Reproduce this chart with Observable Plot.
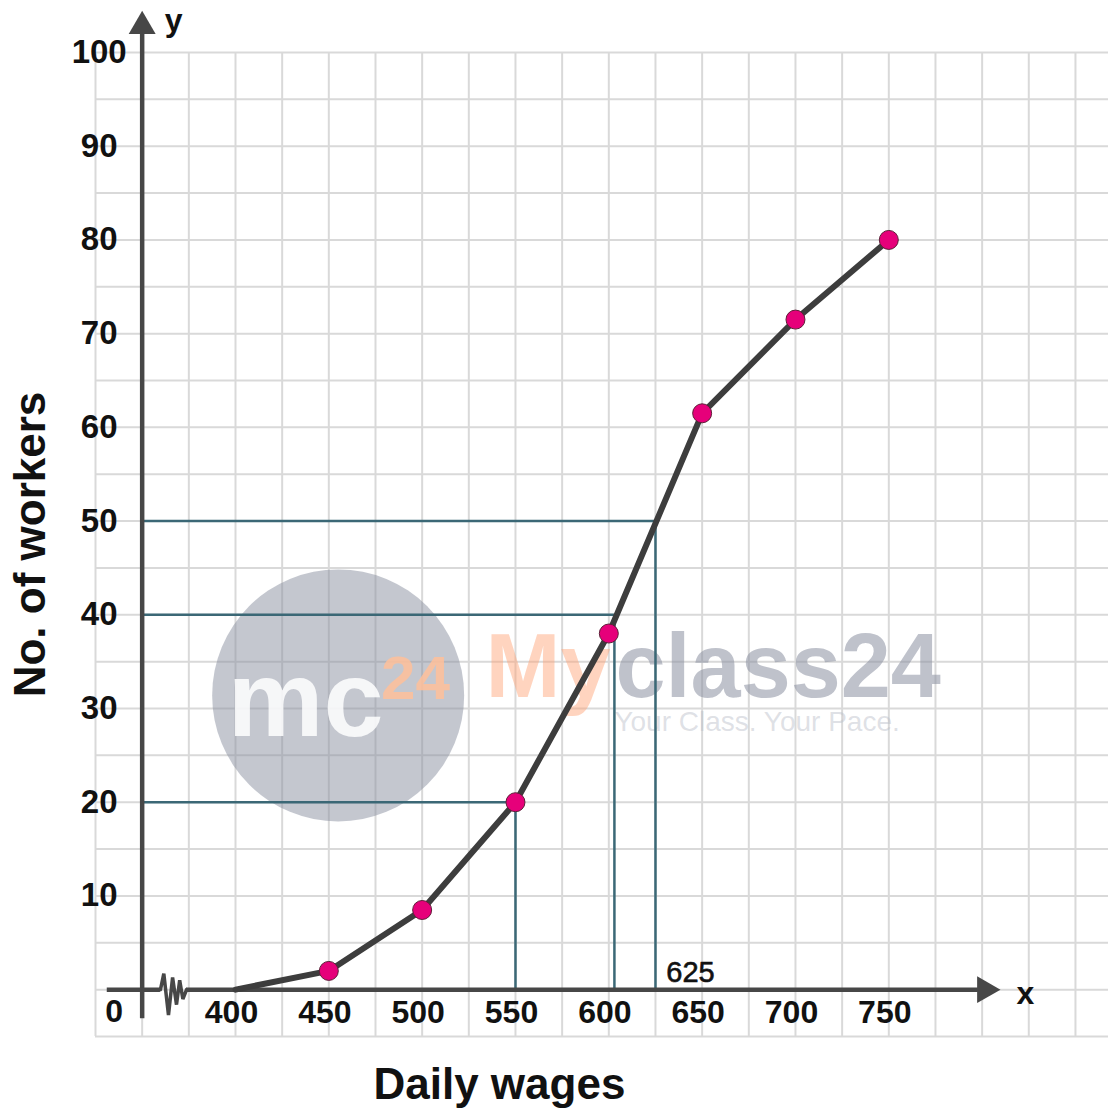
<!DOCTYPE html>
<html><head><meta charset="utf-8">
<script src="https://cdn.jsdelivr.net/npm/d3@7"></script>
<script src="https://cdn.jsdelivr.net/npm/@observablehq/plot@0.6"></script>
<style>body{margin:0;background:#fff} svg{display:block}</style>
</head><body><div id="chart"></div>
<script>
// Ogive: daily wages vs cumulative number of workers
const wages = [400, 450, 500, 550, 600, 650, 700, 750];
const workers = [0, 2, 8.5, 20, 38, 61.5, 71.5, 80];
const xTickLabels = [400, 450, 500, 550, 600, 650, 700, 750];
const yTickLabels = [10, 20, 30, 40, 50, 60, 70, 80, 90, 100];
const readY = [20, 40, 50];
const readX = [550, 603, 625];
const medianText = "625";
const xTitle = "Daily wages";
const yTitle = "No. of workers";

const curve = wages.map((w, i) => ({x: w, y: workers[i]}));
const points = curve.filter(d => d.y > 0);
const reads = readY.map((y, i) => ({x: readX[i], y}));

const FONT = "'Liberation Sans', Arial, Helvetica, sans-serif";
const AX = "#474747";
const TEAL = "#3b6876";

// break (zigzag) on the x axis, in data units
const zig = [[359.8,0],[361.6,1.7],[364.1,-2.7],[366.3,1.3],[368.4,-1.6],[370.1,1.0],[371.8,-1.0],[373.8,0]].map(([x,y])=>({x,y}));

const chart = Plot.plot({
  width: 1108, height: 1108,
  marginLeft: 95, marginRight: 0, marginTop: 52, marginBottom: 72,
  x: {domain: [325, 867.7], axis: null},
  y: {domain: [-5, 100], axis: null},
  style: {fontFamily: FONT, background: "#fff", overflow: "visible"},
  marks: [
    // grid
    Plot.ruleX(d3.range(325, 868, 25), {stroke: "#d9d9d9", strokeWidth: 2}),
    Plot.ruleY(d3.range(-5, 101, 5), {stroke: "#d9d9d9", strokeWidth: 2}),
    // watermark
    Plot.dot([0], {x: 455, y: 31.4, r: 126, fill: "#8a90a0", fillOpacity: 0.5, stroke: null}),
    Plot.text(["mc"], {x: 437.5, y: 27.1, text: d => d, lineAnchor: "bottom", fontSize: 108, fontWeight: "bold", fill: "#ffffff", fillOpacity: 0.85}),
    Plot.text(["24"], {x: 496.4, y: 31.05, text: d => d, lineAnchor: "bottom", fontSize: 62, fontWeight: "bold", fill: "#ffc09a", fillOpacity: 0.85}),
    Plot.text(["My"], {x: 534, y: 31.2, text: d => d, lineAnchor: "bottom", textAnchor: "start", fontSize: 90, fontWeight: "bold", fill: "#ff9f70", fillOpacity: 0.45}),
    Plot.text(["class24"], {x: 603.6, y: 31.2, text: d => d, lineAnchor: "bottom", textAnchor: "start", fontSize: 90, fontWeight: "bold", fill: "#8a90a0", fillOpacity: 0.55}),
    Plot.text(["Your Class. Your Pace."], {x: 603, y: 27.6, text: d => d, lineAnchor: "bottom", textAnchor: "start", fontSize: 28, fill: "#b8bcc6", fillOpacity: 0.45}),
    // reading lines
    Plot.ruleY(reads, {y: "y", x1: 350, x2: "x", stroke: TEAL, strokeWidth: 2.5}),
    Plot.ruleX(reads, {x: "x", y1: 0, y2: "y", stroke: TEAL, strokeWidth: 2.5}),
    // axes
    Plot.ruleX([350], {y1: -3.1, y2: 102.2, stroke: AX, strokeWidth: 4.5}),
    Plot.ruleY([0], {x1: 331.3, x2: 359.8, stroke: AX, strokeWidth: 4.5}),
    Plot.ruleY([0], {x1: 373.8, x2: 798, stroke: AX, strokeWidth: 4.5}),
    Plot.line(zig, {x: "x", y: "y", stroke: AX, strokeWidth: 3.5, strokeLinejoin: "miter"}),
    Plot.dot([0], {x: 350, y: 102.8, symbol: "triangle", r: 10, fill: AX, stroke: null}),
    Plot.dot([0], {x: 801.5, y: 0, symbol: "triangle", r: 10, rotate: 90, fill: AX, stroke: null}),
    // curve and points
    Plot.line(curve, {x: "x", y: "y", stroke: "#3d3d3d", strokeWidth: 6, strokeLinejoin: "round", strokeLinecap: "round"}),
    Plot.dot(points, {x: "x", y: "y", r: 9.5, fill: "#e6007a", stroke: "#5e2038", strokeWidth: 1}),
    // tick labels
    Plot.text(xTickLabels, {x: d => d, y: 0, dx: -4, dy: 23, text: d => String(d), fontSize: 32, fontWeight: "bold", fill: "#111"}),
    Plot.text(yTickLabels, {x: 350, y: d => d, dx: -43, text: d => String(d), fontSize: 33, fontWeight: "bold", fill: "#111"}),
    Plot.text(["0"], {x: 350, y: 0, dx: -28, dy: 22, text: d => d, fontSize: 32, fontWeight: "bold", fill: "#111"}),
    Plot.text([medianText], {x: 625, y: 0, dx: 35, dy: -17, text: d => d, fontSize: 29, fill: "#111", stroke: "#111", strokeWidth: 0.6}),
    // axis letters and titles
    Plot.text(["y"], {x: 366.8, y: 103.4, text: d => d, fontSize: 32, fontWeight: "bold", fill: "#111"}),
    Plot.text(["x"], {x: 823.2, y: -0.4, text: d => d, fontSize: 32, fontWeight: "bold", fill: "#111"}),
    Plot.text([xTitle], {x: 541.4, y: -10.2, text: d => d, fontSize: 44, fontWeight: "bold", fill: "#111"}),
    Plot.text([yTitle], {x: 290.2, y: 47.5, text: d => d, rotate: -90, fontSize: 44, fontWeight: "bold", fill: "#111"})
  ]
});
document.getElementById("chart").append(chart);
</script>
</body></html>
